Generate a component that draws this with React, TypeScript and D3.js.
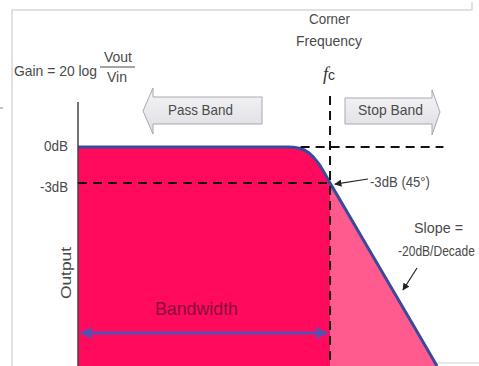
import React from "react";
import * as d3 from "d3";

// Response curve: log10(f/fc) vs gain (dB)
const logFreq = [-1.8, -0.3, -0.22, -0.15, -0.08, 0, 0.3, 0.6, 0.764];
const gainDb = [0, 0, -0.1, -0.5, -1.4, -3, -9, -15, -18.3];
const yTicks = [0, -3];
const yTickLabels = ["0dB", "-3dB"];
const cornerLogF = 0;
const minusThreeDb = -3;
const bandwidthRange = [-1.8, 0];

const W = 479;
const H = 366;

export default function App() {
  const x = d3.scaleLinear().domain([-1.8, 0.764]).range([78, 437]);
  const y = d3.scaleLinear().domain([0, -18.3]).range([147, 366]);
  const pts = logFreq.map((f, i) => [f, gainDb[i]] as [number, number]);
  const line = d3
    .line<[number, number]>()
    .x((d) => x(d[0]))
    .y((d) => y(d[1]))
    .curve(d3.curveMonotoneX);
  const area = d3
    .area<[number, number]>()
    .x((d) => x(d[0]))
    .y0(H)
    .y1((d) => y(d[1]))
    .curve(d3.curveMonotoneX);
  const passPts = pts.filter((p) => p[0] <= cornerLogF);
  const stopPts = pts.filter((p) => p[0] >= cornerLogF);

  const font = "'Liberation Sans', Arial, sans-serif";
  const textCol = "#4a4a4a";
  const xc = x(cornerLogF);
  const LA = "spacingAndGlyphs";

  return (
    <svg
      width={W}
      height={H}
      style={{ position: "absolute", left: 0, top: 0, background: "#fff" }}
      fontFamily={font}
    >
      <defs>
        <linearGradient id="arrowGrad" x1="0" y1="0" x2="0" y2="1">
          <stop offset="0" stopColor="#f6f6f8" />
          <stop offset="1" stopColor="#dcdce2" />
        </linearGradient>
        <marker id="ah" viewBox="0 0 10 10" refX="9" refY="5" markerWidth="6" markerHeight="6" orient="auto-start-reverse">
          <path d="M0,0 L10,5 L0,10 z" fill="#222" />
        </marker>
        <marker id="bh" viewBox="0 0 10 10" refX="9" refY="5" markerWidth="4" markerHeight="4" orient="auto-start-reverse">
          <path d="M0,0 L10,5 L0,10 z" fill="#5b4fb0" />
        </marker>
      </defs>

      {/* frame */}
      <path d="M12,366 L12,10 L472,10 L472,2" fill="none" stroke="#d8d8d8" strokeWidth={1.5} />
      <line x1={436} y1={363} x2={479} y2={363} stroke="#d0d0d0" strokeWidth={1.2} />
      <line x1={0} y1={108} x2={3} y2={108} stroke="#888" strokeWidth={1} />

      {/* fills */}
      <path d={area(passPts) || ""} fill="#ff0a5c" />
      <path d={area(stopPts) || ""} fill="#ff5b8e" />

      {/* response line */}
      <path d={line(pts) || ""} fill="none" stroke="#3a4a9a" strokeWidth={3} />

      {/* y axis */}
      <line x1={78} y1={102} x2={78} y2={H} stroke="#444" strokeWidth={1.5} />
      {yTicks.map((t, i) => (
        <text
          key={t}
          x={68}
          y={y(t) + (i === 0 ? 4 : 9)}
          textAnchor="end"
          fontSize={14}
          fill={textCol}
          textLength={i === 0 ? 24 : 28}
          lengthAdjust={LA}
        >
          {yTickLabels[i]}
        </text>
      ))}
      <text
        transform={`translate(71,273) rotate(-90)`}
        textAnchor="middle"
        fontSize={14}
        fill={textCol}
        textLength={52}
        lengthAdjust={LA}
      >
        Output
      </text>

      {/* dashed guides */}
      <line x1={xc} y1={96} x2={xc} y2={H} stroke="#111" strokeWidth={2} strokeDasharray="9,6" />
      <line x1={x(-0.21)} y1={y(0)} x2={x(0.81)} y2={y(0)} stroke="#111" strokeWidth={2} strokeDasharray="9,6" />
      <line x1={78} y1={y(minusThreeDb)} x2={xc} y2={y(minusThreeDb)} stroke="#111" strokeWidth={2} strokeDasharray="9,6" />

      {/* titles */}
      <text x={14} y={76} fontSize={15} fill={textCol} textLength={83} lengthAdjust={LA}>Gain = 20 log</text>
      <text x={104} y={62} fontSize={14} fill={textCol} textLength={28} lengthAdjust={LA}>Vout</text>
      <line x1={100} y1={67} x2={135} y2={67} stroke={textCol} strokeWidth={1} />
      <text x={107} y={82} fontSize={14} fill={textCol} textLength={20} lengthAdjust={LA}>Vin</text>

      <text x={309} y={24} fontSize={14} fill={textCol} textLength={41} lengthAdjust={LA}>Corner</text>
      <text x={296} y={46} fontSize={14} fill={textCol} textLength={66} lengthAdjust={LA}>Frequency</text>
      <text x={xc - 1} y={80} fontSize={18} textAnchor="middle" fill="#333" fontFamily="'Liberation Serif', serif">
        <tspan fontStyle="italic">f</tspan>
        <tspan fontSize={14} fontFamily={font}>c</tspan>
      </text>

      {/* Pass band arrow */}
      <path
        d="M143,111 L153,88 L153,97 L262,97 L262,124 L153,124 L153,134 Z"
        fill="url(#arrowGrad)"
        stroke="#a8a8b0"
        strokeWidth={1}
      />
      <text x={168} y={115} fontSize={15} fill={textCol} textLength={65} lengthAdjust={LA}>Pass Band</text>

      {/* Stop band arrow */}
      <path
        d="M345,98 L432,98 L432,90 L440,112 L432,135 L432,124 L345,124 Z"
        fill="url(#arrowGrad)"
        stroke="#a8a8b0"
        strokeWidth={1}
      />
      <text x={358} y={115} fontSize={15} fill={textCol} textLength={65} lengthAdjust={LA}>Stop Band</text>

      {/* -3dB annotation */}
      <line x1={368} y1={179} x2={x(0.035)} y2={y(-3.1)} stroke="#222" strokeWidth={1.2} markerEnd="url(#ah)" />
      <text x={370} y={187} fontSize={14} fill={textCol} textLength={60} lengthAdjust={LA}>-3dB (45°)</text>

      {/* slope annotation */}
      <text x={414} y={233} fontSize={14} fill={textCol} textLength={49} lengthAdjust={LA}>Slope =</text>
      <text transform="translate(398,256) scale(0.86,1)" fontSize={14} fill={textCol}>-20dB/Decade</text>
      <line x1={417} y1={268} x2={403} y2={290} stroke="#222" strokeWidth={1.2} markerEnd="url(#ah)" />

      {/* bandwidth */}
      <text x={155} y={315} fontSize={18} fill="#8a0d3c" textLength={83} lengthAdjust={LA}>Bandwidth</text>
      <line
        x1={x(bandwidthRange[0]) + 3}
        y1={333}
        x2={x(bandwidthRange[1]) - 3}
        y2={333}
        stroke="#5b4fb0"
        strokeWidth={3}
        markerStart="url(#bh)"
        markerEnd="url(#bh)"
      />
    </svg>
  );
}
